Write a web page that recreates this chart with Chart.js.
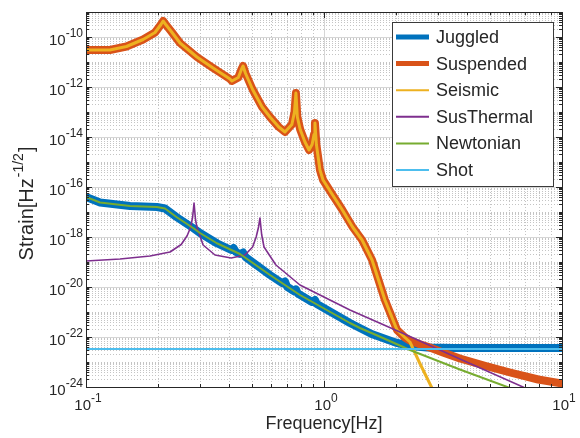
<!DOCTYPE html>
<html>
<head>
<meta charset="utf-8">
<script src="https://cdn.jsdelivr.net/npm/chart.js@4.4.1/dist/chart.umd.min.js"></script>
<style>
  body { margin: 0; background: #fff; }
  canvas { display: block; }
</style>
</head>
<body>
<canvas id="noiseChart" width="580" height="438"></canvas>
<script>
// values, as log10(frequency / Hz) and log10(strain)
const juggledLogF = [-1.0, -0.941, -0.815, -0.702, -0.668, -0.62, -0.55, -0.521, -0.45, -0.39, -0.38, -0.37, -0.353, -0.34, -0.33,
  -0.227, -0.175, -0.164, -0.155, -0.125, -0.118, -0.11, -0.05, -0.038, -0.03, 0.109, 0.2, 0.3, 0.361, 0.433, 0.55, 1.0];
const juggledLogS = [-16.4, -16.62, -16.76, -16.8, -16.86, -17.2, -17.64, -17.84, -18.25, -18.52, -18.44, -18.6, -18.68, -18.62, -18.8,
  -19.52, -19.85, -19.78, -19.99, -20.17, -20.1, -20.26, -20.6, -20.52, -20.68, -21.44, -21.88, -22.22, -22.36, -22.42, -22.44, -22.44];

const suspendedLogF = [-1.0, -0.9, -0.83, -0.76, -0.71, -0.685, -0.676, -0.665, -0.64, -0.605, -0.534, -0.466, -0.395, -0.387,
  -0.36, -0.345, -0.34, -0.33, -0.3, -0.26, -0.227, -0.19, -0.164, -0.135, -0.124, -0.118, -0.112, -0.1, -0.08, -0.063,
  -0.05, -0.042, -0.038, -0.032, -0.017, -0.004, 0.035, 0.076, 0.12, 0.16, 0.202, 0.256, 0.307, 0.34,
  0.361, 0.4, 0.433, 0.5, 0.571, 0.68, 0.782, 0.9, 1.0];
const suspendedLogS = [-10.52, -10.52, -10.38, -10.1, -9.82, -9.5, -9.36, -9.5, -9.8, -10.24, -10.8, -11.24, -11.68, -11.76,
  -11.62, -11.25, -11.16, -11.45, -12.1, -12.8, -13.2, -13.6, -13.8, -13.5, -13.0, -12.24, -13.2, -13.7, -14.2, -14.52,
  -14.3, -13.9, -13.44, -14.3, -15.32, -15.72, -16.3, -16.9, -17.6, -18.12, -18.92, -20.52, -21.72, -22.02,
  -22.14, -22.28, -22.38, -22.62, -22.86, -23.16, -23.42, -23.7, -23.86];

// seismic follows the suspended curve up to ~2.2 Hz, then falls away
const seismicSplitLogF = 0.34;
const seismicTailLogF = [0.361, 0.4, 0.454, 0.49];
const seismicTailLogS = [-22.2, -23.0, -24.05, -24.8];

const susThermalLogF = [-1.0, -0.857, -0.731, -0.647, -0.6, -0.575, -0.56, -0.552, -0.546, -0.54, -0.534, -0.508, -0.458,
  -0.39, -0.332, -0.3, -0.285, -0.275, -0.269, -0.262, -0.252, -0.202, -0.101, 0.109, 0.319, 0.571, 0.836, 0.95];
const susThermalLogS = [-18.96, -18.88, -18.76, -18.6, -18.3, -17.95, -17.6, -17.2, -16.64, -17.3, -17.6, -18.32, -18.72,
  -18.84, -18.72, -18.4, -18.0, -17.6, -17.24, -17.9, -18.4, -19.12, -19.92, -20.92, -21.8, -22.88, -24.0, -24.5];

const newtonianLogF = [-1.0, -0.941, -0.815, -0.702, -0.668, -0.62, -0.55, -0.521, -0.45, -0.353, -0.227, -0.101, 0.109,
  0.151, 0.25, 0.361, 0.571, 0.77, 0.9];
const newtonianLogS = [-16.4, -16.62, -16.76, -16.8, -16.86, -17.2, -17.64, -17.84, -18.25, -18.68, -19.52, -20.32, -21.44,
  -21.64, -22.05, -22.52, -23.3, -24.0, -24.5];

const shotLogF = [-1.0, 1.0];
const shotLogS = [-22.48, -22.48];

const seriesNames = ['Juggled', 'Suspended', 'Seismic', 'SusThermal', 'Newtonian', 'Shot'];
const seriesColors = ['#0072BD', '#D95319', '#EDB120', '#7E2F8E', '#77AC30', '#4DBEEE'];
const seriesWidths = [8, 8, 3, 1.6, 2, 2];
const legendWidths = [5, 5, 2, 2, 2, 2];

const xTickExps = [-1, 0, 1];
const yTickExps = [-24, -22, -20, -18, -16, -14, -12, -10];

const FONT = '"Liberation Sans", Arial, Helvetica, sans-serif';
const INK = '#262626';

function toPoints(logF, logS) {
  return logF.map((f, i) => ({ x: Math.pow(10, f), y: Math.pow(10, logS[i]) }));
}

const seismicLogF = suspendedLogF.filter(f => f <= seismicSplitLogF).concat(seismicTailLogF);
const seismicLogS = suspendedLogS.filter((s, i) => suspendedLogF[i] <= seismicSplitLogF).concat(seismicTailLogS);

const seriesData = [
  toPoints(juggledLogF, juggledLogS),
  toPoints(suspendedLogF, suspendedLogS),
  toPoints(seismicLogF, seismicLogS),
  toPoints(susThermalLogF, susThermalLogS),
  toPoints(newtonianLogF, newtonianLogS),
  toPoints(shotLogF, shotLogS)
];

// later series sit on top, like the original plot
const datasets = seriesNames.map((name, i) => ({
  label: name,
  data: seriesData[i],
  borderColor: seriesColors[i],
  backgroundColor: seriesColors[i],
  borderWidth: seriesWidths[i],
  pointRadius: 0,
  tension: 0,
  borderJoinStyle: 'round',
  borderCapStyle: 'round',
  order: seriesNames.length - i
}));

function gridValues(fromExp, toExp) {
  const vals = [];
  for (let d = fromExp; d < toExp; d++) {
    for (let m = 1; m <= 9; m++) vals.push({ v: m * Math.pow(10, d), m: m, d: d });
  }
  vals.push({ v: Math.pow(10, toExp), m: 1, d: toExp });
  return vals;
}

const xGrid = gridValues(-1, 1);
const yGrid = gridValues(-24, -9);
const isMajorX = g => g.m === 1;
const isMajorY = g => g.m === 1 && g.d % 2 === 0;

const gridPlugin = {
  id: 'matlabGrid',
  beforeDatasetsDraw(chart) {
    const { ctx, chartArea: a, scales } = chart;
    ctx.save();
    ctx.lineWidth = 1;
    // minor dotted lines
    ctx.strokeStyle = '#c4c4c4';
    ctx.setLineDash([1, 2]);
    xGrid.filter(g => !isMajorX(g)).forEach(g => {
      const px = Math.round(scales.x.getPixelForValue(g.v)) + 0.5;
      ctx.beginPath(); ctx.moveTo(px, a.top); ctx.lineTo(px, a.bottom); ctx.stroke();
    });
    yGrid.filter(g => !isMajorY(g)).forEach(g => {
      const py = Math.round(scales.y.getPixelForValue(g.v)) + 0.5;
      ctx.beginPath(); ctx.moveTo(a.left, py); ctx.lineTo(a.right, py); ctx.stroke();
    });
    // major solid lines
    ctx.setLineDash([]);
    ctx.strokeStyle = '#d6d6d6';
    xGrid.filter(isMajorX).forEach(g => {
      const px = Math.round(scales.x.getPixelForValue(g.v)) + 0.5;
      ctx.beginPath(); ctx.moveTo(px, a.top); ctx.lineTo(px, a.bottom); ctx.stroke();
    });
    yGrid.filter(isMajorY).forEach(g => {
      const py = Math.round(scales.y.getPixelForValue(g.v)) + 0.5;
      ctx.beginPath(); ctx.moveTo(a.left, py); ctx.lineTo(a.right, py); ctx.stroke();
    });
    ctx.restore();
  }
};

function drawPower(ctx, exp, x, y, align) {
  // "10" with a raised exponent; y is the tick position
  const base = '10', sup = String(exp);
  ctx.font = '15px ' + FONT;
  const wb = ctx.measureText(base).width;
  ctx.font = '12px ' + FONT;
  const ws = ctx.measureText(sup).width;
  let left;
  if (align === 'right') left = x - wb - ws;
  else left = x - (wb + ws) / 2;
  const baseLine = align === 'right' ? y + 8 : y;
  const supLine = baseLine - 8;
  ctx.textAlign = 'left';
  ctx.textBaseline = 'alphabetic';
  ctx.font = '15px ' + FONT;
  ctx.fillText(base, left, baseLine);
  ctx.font = '12px ' + FONT;
  ctx.fillText(sup, left + wb, supLine);
}

const axesPlugin = {
  id: 'matlabAxes',
  afterDatasetsDraw(chart) {
    const { ctx, chartArea: a, scales } = chart;
    ctx.save();
    ctx.strokeStyle = INK;
    ctx.fillStyle = INK;
    ctx.lineWidth = 1;
    // tick marks on all four sides, pointing in
    xGrid.forEach(g => {
      const px = Math.round(scales.x.getPixelForValue(g.v)) + 0.5;
      const len = isMajorX(g) ? 6 : 3;
      ctx.beginPath();
      ctx.moveTo(px, a.bottom); ctx.lineTo(px, a.bottom - len);
      ctx.moveTo(px, a.top); ctx.lineTo(px, a.top + len);
      ctx.stroke();
    });
    yGrid.forEach(g => {
      const py = Math.round(scales.y.getPixelForValue(g.v)) + 0.5;
      const len = isMajorY(g) ? 6 : 3;
      ctx.beginPath();
      ctx.moveTo(a.left, py); ctx.lineTo(a.left + len, py);
      ctx.moveTo(a.right, py); ctx.lineTo(a.right - len, py);
      ctx.stroke();
    });
    ctx.strokeRect(Math.round(a.left) + 0.5, Math.round(a.top) + 0.5,
      Math.round(a.right - a.left), Math.round(a.bottom - a.top));

    // tick labels
    yTickExps.forEach(e => drawPower(ctx, e, a.left - 3, scales.y.getPixelForValue(Math.pow(10, e)), 'right'));
    xTickExps.forEach(e => drawPower(ctx, e, scales.x.getPixelForValue(Math.pow(10, e)) + 2, a.bottom + 23, 'center'));

    // axis titles
    ctx.font = '18px ' + FONT;
    ctx.textAlign = 'center';
    ctx.textBaseline = 'alphabetic';
    ctx.fillText('Frequency[Hz]', (a.left + a.right) / 2, a.bottom + 42);

    ctx.save();
    ctx.translate(33, (a.top + a.bottom) / 2 + 4);
    ctx.rotate(-Math.PI / 2);
    ctx.textAlign = 'left';
    ctx.font = '20px ' + FONT;
    const p1 = 'Strain[Hz', p3 = ']';
    const w1 = ctx.measureText(p1).width, w3 = ctx.measureText(p3).width;
    ctx.font = '14px ' + FONT;
    const p2 = '-1/2';
    const w2 = ctx.measureText(p2).width + 2;
    const sx = -(w1 + w2 + w3) / 2;
    ctx.font = '20px ' + FONT;
    ctx.fillText(p1, sx, 0);
    ctx.font = '14px ' + FONT;
    ctx.fillText(p2, sx + w1 + 1, -10);
    ctx.font = '20px ' + FONT;
    ctx.fillText(p3, sx + w1 + w2, 0);
    ctx.restore();

    // legend box in the upper right corner
    const lx = a.right - 170, ly = a.top + 10, lw = 161, lh = 164;
    ctx.fillStyle = '#ffffff';
    ctx.fillRect(lx, ly, lw, lh);
    ctx.strokeStyle = '#3a3a3a';
    ctx.strokeRect(Math.round(lx) + 0.5, Math.round(ly) + 0.5, lw, lh);
    ctx.font = '18px ' + FONT;
    ctx.textAlign = 'left';
    ctx.textBaseline = 'middle';
    seriesNames.forEach((name, i) => {
      const cy = ly + 15 + i * 26.6;
      ctx.strokeStyle = seriesColors[i];
      ctx.lineWidth = legendWidths[i];
      ctx.beginPath(); ctx.moveTo(lx + 4, cy); ctx.lineTo(lx + 37, cy); ctx.stroke();
      ctx.fillStyle = INK;
      ctx.fillText(name, lx + 44, cy + 1);
    });
    ctx.restore();
  }
};

new Chart(document.getElementById('noiseChart').getContext('2d'), {
  type: 'line',
  data: { datasets: datasets },
  options: {
    responsive: false,
    animation: false,
    layout: { padding: { left: 86, right: 18, top: 12, bottom: 51 } },
    scales: {
      x: { type: 'logarithmic', min: 0.1, max: 10, display: false },
      y: { type: 'logarithmic', min: 1e-24, max: 1e-9, display: false }
    },
    plugins: { legend: { display: false }, tooltip: { enabled: false } }
  },
  plugins: [gridPlugin, axesPlugin]
});
</script>
</body>
</html>
